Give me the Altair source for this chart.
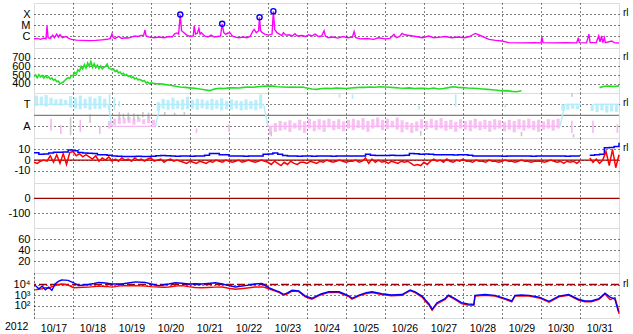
import altair as alt
import pandas as pd

# ---- time frame: hours after 2012-10-17 00:00 UT (15 days) ----
day_labels = ["10/17", "10/18", "10/19", "10/20", "10/21", "10/22", "10/23", "10/24",
              "10/25", "10/26", "10/27", "10/28", "10/29", "10/30", "10/31"]
year_label = ["2012"]
right_tag = "rl"

# ---- panel 1: X-ray flux (W/m^2) ----
xray_hours = [
    0, 2, 4, 6, 7.4, 8, 8.7, 10, 11.5, 12.5,
    14, 15, 16, 17.5, 19.5, 21.5, 23, 26, 30, 34,
    38, 42, 45, 47, 48, 48.7, 50, 52, 54, 56,
    58, 60, 62, 64, 66, 67.5, 68.3, 69, 71, 74,
    77, 80, 83, 85, 86.5, 88, 89, 90, 90.8, 92.3,
    94, 96, 98, 98.6, 99.4, 100.5, 101.5, 102.2, 103, 105,
    107, 109, 111, 113, 114.8, 115.8, 116.8, 118, 119, 120.6,
    122, 124, 126, 129, 131, 133, 134.5, 135.5, 136.8, 138.2,
    138.8, 139.4, 140.5, 142, 144.5, 146.5, 147.3, 148.1, 149.5, 151,
    152.5, 153.5, 155, 157, 159, 160.6, 162, 165, 167, 169,
    171, 173, 175, 177, 178.5, 179.3, 181, 184, 187, 190,
    193, 196, 197, 198, 201, 205, 209, 212, 216, 219,
    221.5, 223, 225, 226.5, 228, 231, 235, 239, 243, 246,
    250, 253, 257, 261, 265, 268, 270, 271.5, 273.5, 276,
    280, 284, 288, 292, 300, 308, 312, 312.6, 313.2, 320,
    327, 334, 335, 335.6, 340, 341.5, 342.2, 346, 347.5, 348.3,
    349.3, 350, 351, 351.6, 355.5, 357, 360,
]
xray_flux = [
    5.5e-7, 6e-7, 5e-7, 6.5e-7, 5.5e-7, 8e-6, 7e-7, 6e-7, 1.2e-6, 7e-7,
    1.5e-6, 8e-7, 1.3e-6, 7e-7, 9e-7, 6e-7, 5e-7, 4.2e-7, 4e-7, 3.8e-7,
    4e-7, 4.5e-7, 5e-7, 6e-7, 1.6e-6, 7e-7, 6e-7, 9e-7, 6e-7, 7e-7,
    6.5e-7, 8e-7, 1e-6, 9e-7, 1.1e-6, 1.2e-6, 3.5e-6, 1e-6, 8e-7, 7e-7,
    8e-7, 7e-7, 9e-7, 8e-7, 1.6e-6, 1.9e-6, 1.5e-6, 9e-5, 3e-6, 2e-6,
    1.2e-6, 9e-7, 1e-6, 8e-6, 1.5e-6, 1.8e-6, 5e-6, 1.5e-6, 2e-6, 1e-6,
    8e-7, 1.2e-6, 8e-7, 9e-7, 1e-6, 1.3e-5, 2e-6, 1.4e-6, 1.8e-6, 2e-6,
    1e-6, 8e-7, 7e-7, 8e-7, 7e-7, 9e-7, 2.5e-6, 4e-6, 2e-6, 3e-6,
    5e-5, 3e-6, 2e-6, 1.5e-6, 1.2e-6, 1.5e-6, 1.8e-4, 4e-6, 2e-6, 1.5e-6,
    1.1e-6, 2e-6, 1.2e-6, 1.3e-6, 1e-6, 1.6e-6, 1e-6, 1.1e-6, 9e-7, 1.3e-6,
    1e-6, 1.5e-6, 9e-7, 1e-6, 3e-6, 1e-6, 7e-7, 8e-7, 6.5e-7, 9e-7,
    7e-7, 8e-7, 2.5e-6, 7e-7, 5.5e-7, 6e-7, 5e-7, 7e-7, 5.5e-7, 6e-7,
    1.4e-6, 7e-7, 9e-7, 1.7e-6, 1.3e-6, 1.1e-6, 9e-7, 7e-7, 1e-6, 7e-7,
    8e-7, 9e-7, 7e-7, 8e-7, 7e-7, 9e-7, 1.3e-6, 1.7e-6, 1.3e-6, 9e-7,
    5e-7, 4e-7, 3.5e-7, 2.5e-7, 2.4e-7, 2.5e-7, 2.4e-7, 8e-7, 2.5e-7, 2.4e-7,
    2.5e-7, 2.4e-7, 7e-7, 2.5e-7, 2.4e-7, 1.5e-6, 2.5e-7, 2.6e-7, 1e-6, 3e-7,
    1e-6, 2.5e-7, 7e-7, 2.5e-7, 3.5e-7, 2.5e-7, 2.3e-7,
]
flare_hours = [90.0, 115.8, 138.8, 147.3]
flare_flux = [9.0e-5, 1.3e-5, 5.0e-5, 1.8e-4]
xray_class_ticks = [1e-6, 1e-5, 1e-4]
xray_class_names = ["C", "M", "X"]

# ---- panel 2: solar wind speed (km/s) ----
speed_hours = list(range(0, 73)) + list(range(75, 361, 3))
speed_kms = [
    485, 500, 470, 505, 480, 495, 465, 490, 470, 480,
    455, 465, 440, 450, 425, 430, 400, 410, 420, 440,
    455, 470, 460, 495, 490, 530, 510, 560, 545, 600,
    570, 620, 580, 640, 600, 655, 590, 630, 585, 615,
    575, 605, 570, 590, 600, 625, 580, 575, 560, 570,
    540, 555, 525, 535, 510, 520, 495, 505, 485, 490,
    470, 480, 455, 465, 445, 450, 440, 430, 435, 410,
    420, 400, 410,
    400, 398, 390, 383, 370, 362, 358, 352, 347, 340,
    330, 320, 338, 347, 345, 352, 354, 350, 358, 362,
    360, 365, 370, 374, 372, 365, 362, 360, 363, 360,
    362, 350, 340, 335, 345, 348, 345, 350, 347, 345,
    350, 355, 360, 358, 362, 360, 365, 362, 360, 355,
    350, 347, 352, 345, 348, 346, 342, 350, 340, 345,
    355, 365, 358, 355, 350, 347, 345, 340, 335, 330,
    325, 318, 320, 312, 308, 318,
    None, None, None, None, None, None, None, None, None, None,
    None, None, None, None, None,
    355, 370, 372, 368, 375,
]
speed_ticks = [400, 500, 600, 700]

# ---- panel 3: IMF sector (T = +1, A = -1) ----
toward_band_hours = [1.5, 4.5, 7.5, 10.5, 13.5, 16.5, 19.5, 22.5, 25.5, 28.5,
                     31.5, 34.5, 37.5, 40.5, 43.5,
                     76.5, 79.5, 82.5, 85.5, 88.5, 91.5, 94.5, 97.5, 100.5, 103.5,
                     106.5, 109.5, 112.5, 115.5, 118.5, 121.5, 124.5, 127.5, 130.5, 133.5,
                     136.5, 139.5,
                     325.5, 328.5, 331.5, 334.5, 343.5, 346.5, 349.5, 352.5, 355.5, 358.5]
toward_band_lo = [0.85, 0.9, 0.8, 0.95, 0.9, 0.85, 0.95, 0.7, 0.6, 0.55,
                  0.65, 0.5, 0.6, 0.55, 0.7,
                  0.4, 0.6, 0.5, 0.55, 0.6, 0.5, 0.55, 0.6, 0.5, 0.65,
                  0.55, 0.5, 0.6, 0.45, 0.55, 0.5, 0.6, 0.45, 0.5, 0.55,
                  0.45, 0.6,
                  0.4, 0.5, 0.6, 0.55, 0.4, 0.3, 0.45, 0.25, 0.35, 0.3]
toward_band_hi = [1.8, 1.7, 1.85, 1.6, 1.45, 1.5, 1.4, 1.75, 1.6, 1.8,
                  1.5, 1.7, 1.55, 1.75, 1.5,
                  1.2, 1.5, 1.4, 1.6, 1.35, 1.45, 1.7, 1.4, 1.5, 1.45,
                  1.35, 1.5, 1.4, 1.55, 1.3, 1.45, 1.35, 1.3, 1.45, 1.3,
                  1.4, 1.9,
                  1.0, 0.95, 1.0, 0.9, 1.0, 0.95, 1.0, 0.9, 1.0, 0.95]
away_band_hours = [46.5, 49.5, 52.5, 55.5, 58.5, 61.5, 64.5, 67.5, 70.5, 73.5] + \
                  [145.5 + 3 * k for k in range(60)]
away_band_lo = [-0.5, -0.3, -0.2, -0.25, -0.15, -0.3, -0.2, -0.35, -0.1, -0.4,
                -1.0, -0.7, -0.5, -0.6, -0.45, -0.7, -0.4, -0.55, -0.3, -0.5,
                -0.35, -0.45, -0.3, -0.5, -0.35, -0.55, -0.4, -0.3, -0.45, -0.25,
                -0.5, -0.35, -0.2, -0.4, -0.3, -0.5, -0.2, -0.45, -0.6, -0.7,
                -0.55, -0.35, -0.5, -0.3, -0.45, -0.25, -0.5, -0.4, -0.6, -0.35,
                -0.5, -0.45, -0.3, -0.55, -0.4, -0.5, -0.35, -0.45, -0.6, -0.4,
                -0.5, -0.35, -0.45, -0.3, -0.5, -0.4, -0.55, -0.35, -0.4, -0.3]
away_band_hi = [-1.2, -0.9, -0.8, -0.75, -0.7, -0.85, -0.6, -0.8, -0.7, -0.9,
                -1.75, -1.5, -1.4, -1.3, -1.5, -1.2, -1.35, -1.6, -1.2, -1.45,
                -1.3, -1.5, -1.1, -1.35, -1.25, -1.45, -1.2, -1.35, -1.15, -1.3,
                -1.5, -1.2, -1.1, -1.35, -1.25, -1.1, -1.3, -1.55, -1.3, -1.6,
                -1.45, -1.2, -1.3, -1.15, -1.35, -1.2, -1.4, -1.25, -1.5, -1.2,
                -1.3, -1.45, -1.2, -1.35, -1.25, -1.5, -1.3, -1.2, -1.45, -1.3,
                -1.55, -1.25, -1.4, -1.2, -1.35, -1.5, -1.3, -1.2, -1.4, -1.2]
streak_hours = [46.5, 49.5, 52.5, 188, 196, 237, 259.5, 290,
                10.5, 16.5, 28.5, 40.5, 100, 120, 331, 344, 359,
                22.5, 34.5, 52.5, 55, 58, 61.5, 64, 67, 70.5, 80.5, 86.5, 92.5,
                146, 238, 300, 332, 331]
streak_lo = [0.3, 0.5, 0.8, 1.6, 1.5, 0.5, 0.8, 0.7,
             -0.3, -0.9, -0.4, -1.0, -1.2, -0.8, -0.5, -0.5, -0.8,
             -0.2, 0.1, 0.3, 0.15, 0.25, 0.2, 0.1, 0.3, 0.25, 0.3, 0.25, 0.3,
             -1.5, -1.4, -1.5, -1.7, 1.7]
streak_hi = [1.9, 1.6, 1.3, 2.0, 1.9, 0.9, 1.9, 1.0,
             -1.4, -1.7, -1.5, -1.7, -1.6, -1.5, -1.6, -1.6, -1.6,
             -1.8, -0.7, -0.4, -0.3, -0.45, -0.5, -0.35, -0.2, -0.3, 0.0, -0.05, 0.05,
             -1.9, -1.85, -1.9, -2.0, 2.0]
streak_kind = ["toward"] * 8 + ["away"] * 9 + ["other"] * 17
sector_h_start = [0, 45.6, 48, 74.7, 77.7, 141.3, 144, 323.7, 326.8, 344.6]
sector_h_end = [45.6, 48, 74.7, 77.7, 141.3, 144, 323.7, 326.8, 336.6, 360]
sector_p_start = [1, 1, -1, -1, 1, 1, -1, -1, 1, 1]
sector_p_end = [1, -1, -1, 1, 1, -1, -1, 1, 1, 1]
sector_kind = ["toward", "change", "away", "change", "toward", "change",
               "away", "change", "toward", "toward"]
sector_ticks = [-1, 1]
sector_names = ["A", "T"]

# ---- panel 4: IMF Bt / Bz (nT) ----
bt_hours = list(range(0, 361, 3))
bt_nt = [
    6.8, 5.5, 5.6, 6.5, 7.3, 7.2, 7.6, 9.3, 8.6, 7.0,
    6.5, 6.3, 6.0, 5.0, 4.9, 4.5, 3.8, 3.5, 3.3, 3.4,
    3.3, 3.5, 3.3, 3.4, 3.6, 4.0, 4.3, 4.0, 3.8, 3.6,
    3.7, 3.7, 3.6, 3.8, 3.7, 4.5, 6.2, 6.0, 5.0, 4.9,
    3.8, 3.7, 3.7, 3.6, 3.7, 3.7, 3.8, 5.5, 5.6, 6.5,
    5.5, 4.2, 3.7, 3.7, 3.6, 3.7, 3.7, 3.6, 3.7, 3.7,
    3.7, 3.6, 3.7, 3.7, 3.8, 3.7, 3.7, 3.8, 5.3, 4.6,
    4.3, 4.3, 4.2, 4.4, 4.3, 4.3, 4.4, 6.2, 5.8, 5.5,
    5.6, 5.4, 4.9, 4.9, 5.0, 4.9, 4.8, 4.9, 4.9, 4.5,
    3.9, 3.7, 3.7, 3.8, 3.7, 3.7, 3.6, 3.7, 3.7, 3.8,
    3.7, 3.7, 3.6, 3.7, 3.7, 3.8, 3.7, 3.7, 3.7, 3.6,
    3.7, 3.8, 3.7, None, 4.5, 5.0, 5.5, 11.5, 11.7, 12.5,
    16.0,
]
bz_hours = list(range(0, 361, 2))
bz_nt = [
    -2, -3, -1, 0, -1, 4, -2, 5, -3, 6,
    -4, 7, 8, 4, 6, 3, 5, 3, 1, 4,
    -1, 2, 0, 3, -1, 1, -1, 2, 0, 1,
    -1, 2, 0, 1, -1, 1, 2, -1, 0, 1,
    -2, 0, 1, -1, 0, -1, -2, -3, -1, -2,
    -3, -1, -2, -3, -1, -2, 0, -1, -2, 0,
    -1, -2, -1, 0, -2, -1, 0, -1, -2, -1,
    0, -1, -2, -4, -1, -3, -5, -2, -4, -1,
    -3, -4, -2, -2, -3, -1, -2, -3, -1, -2,
    0, -1, -2, -1, 0, -1, -2, -1, -1, 0,
    -2, -1, 2, -3, 1, -2, 0, -2, -1, -3,
    -1, -2, -3, -1, -2, -1, -3, -5, -4, -5,
    -2, -4, -1, 1, -1, 0, -2, 1, -1, -2,
    0, -1, 1, -1, -1, -2, 0, -1, -1, -2,
    0, -1, -1, -2, -1, 0, -1, -1, -2, -1,
    0, -1, -1, -2, -1, -1, -1, -2, -1, 0,
    -1, -2, -1, -3, -1, -2, -1, -3, -1, None,
    None, 2, -2, 1, -3, 0, 8, -5, 10, -7,
    5,
]
b_ticks = [-10, 0, 10]

# ---- panel 5: Dst (nT) and panel 6: no data in this window ----
dst_ticks = [-100, 0]
dst_zero = [0]
p6_ticks = [20, 40, 60]

# ---- panel 7: electron flux (log10) ----
elec_hours = [
    0.8, 3, 5, 7, 9, 11, 13, 15, 17, 19,
    21, 24.4, 27.5, 30, 33.6, 37, 39.8, 44, 48, 54,
    58, 62.4, 68.5, 72, 76.7, 80, 82.9, 87, 91, 95,
    99, 103, 107, 111.6, 116, 119.8, 124, 130, 136, 140.3,
    142.3, 144.4, 148.5, 151, 153.6, 156, 158.8, 162.9, 167, 171,
    175, 177, 181.5, 187.7, 191, 194, 195.7, 200, 204, 208,
    214, 220, 226.5, 231.5, 234.5, 238.8, 241, 243, 245, 248,
    253, 255, 259, 263, 267, 270.7, 271.4, 277.5, 283.7, 290,
    294, 296, 300, 304.6, 310.8, 317, 323, 329, 335, 339,
    343, 347.7, 351.4, 354.5, 357.5, 359.5, 360,
]
elec_blue_log = [
    3.9, 3.6, 3.85, 3.5, 3.75, 3.45, 4.05, 4.3, 4.43, 4.42,
    4.4, 4.17, 3.9, 3.95, 4.0, 4.1, 4.2, 4.15, 4.05, 4.05,
    4.15, 4.25, 4.2, 4.05, 3.9, 3.98, 4.05, 4.17, 4.12, 4.05,
    4.08, 4.05, 4.1, 4.17, 4.05, 3.9, 3.76, 3.9, 4.05, 4.1,
    3.9, 3.7, 3.45, 3.3, 3.07, 3.2, 3.45, 3.4, 2.9, 2.69,
    3.0, 3.12, 3.31, 3.31, 3.1, 2.9, 2.69, 3.0, 3.2, 3.31,
    3.12, 3.0, 3.05, 3.48, 3.3, 2.9, 2.5, 2.17, 1.64, 2.27,
    2.66, 3.0, 2.66, 2.27, 2.15, 2.11, 2.97, 3.05, 2.97, 2.66,
    2.43, 2.97, 3.0, 2.97, 2.8, 2.4, 2.9, 3.05, 2.6, 2.43,
    2.43, 2.66, 3.18, 2.8, 2.6, 1.48, 1.4,
]
elec_red_log = [
    3.5, 3.55, 3.6, 3.7, 3.65, 3.8, 3.9, 4.0, 4.05, 4.02,
    3.95, 3.7, 3.72, 3.74, 3.75, 3.8, 3.85, 3.82, 3.75, 3.9,
    3.88, 3.9, 3.85, 3.8, 3.76, 3.74, 3.76, 3.85, 3.9, 3.8,
    3.72, 3.7, 3.72, 3.75, 3.76, 3.65, 3.55, 3.65, 3.76, 3.78,
    3.72, 3.6, 3.38, 3.22, 2.98, 3.12, 3.38, 3.32, 2.82, 2.6,
    2.92, 3.05, 3.25, 3.24, 3.02, 2.82, 2.6, 2.92, 3.12, 3.24,
    3.05, 2.93, 2.98, 3.42, 3.22, 2.8, 2.38, 2.05, 1.55, 2.15,
    2.58, 2.92, 2.58, 2.18, 2.05, 2.02, 2.9, 2.98, 2.9, 2.58,
    2.35, 2.9, 2.93, 2.9, 2.72, 2.32, 2.82, 2.98, 2.52, 2.36,
    2.36, 2.58, 3.1, 2.55, 2.75, 1.7, 1.2,
]
elec_ticks = [2, 3, 4]
elec_alert_log = [4]

# ---------------- build ----------------
W, H = 585, 45
XDOM = [0, 360]
DOT = [1, 3]
FONT = "Liberation Sans"

MAG = "#ff00ff"
GRN = "#22e022"
BLUE = "#0000ff"
RED = "#ff0000"
DKRED = "#a00000"
CYAN = "#b2ecfa"
PINK = "#f6b6f2"
LGRAY = "#c8c8c8"

XAXIS = alt.Axis(values=[24 * k for k in range(1, 15)], labels=False, ticks=False,
                 domain=False, grid=True, gridColor="black", gridDash=DOT,
                 gridOpacity=1, title=None)
label_list = "[" + ",".join("'" + d + "'" for d in day_labels) + "]"
XAXIS_BOTTOM = alt.Axis(values=[24 * k for k in range(0, 15)], labels=True,
                        labelExpr=label_list + "[round(datum.value/24)]",
                        labelOffset=19.5, labelFlush=False, labelOverlap=False,
                        labelPadding=5, labelFontSize=10.5, labelColor="black",
                        labelFont=FONT, ticks=False, domain=False, grid=True,
                        gridColor="black", gridDash=DOT, gridOpacity=1, title=None)


def yaxis(values, expr):
    return alt.Axis(values=values, labelExpr=expr, title=None, ticks=False,
                    domain=False, grid=True, gridColor="black", gridDash=DOT,
                    gridOpacity=1, labelPadding=4, labelFontSize=11,
                    labelOverlap=False, labelColor="black", labelFont=FONT,
                    minExtent=30, maxExtent=30)


def X(field, bottom=False):
    return alt.X(f"{field}:Q", scale=alt.Scale(domain=XDOM, nice=False, zero=False),
                 axis=XAXIS_BOTTOM if bottom else XAXIS)


def segmented(hours, values):
    df = pd.DataFrame({"h": hours, "v": values})
    df["seg"] = df["v"].isna().cumsum()
    return df.dropna()


def tag(ysc, yax, yval):
    df = pd.DataFrame({"t": [right_tag], "v": [yval]})
    return alt.Chart(df).mark_text(align="left", baseline="middle", fontSize=10,
                                   font=FONT, color="black", dy=-1).encode(
        x=alt.value(W + 4), y=alt.Y("v:Q", scale=ysc, axis=yax), text="t:N")


# panel 1
y1s = alt.Scale(type="log", domain=[10 ** -7.09, 1e-3], nice=False)
y1a = yaxis(xray_class_ticks, "datum.value > 5e-5 ? 'X' : (datum.value > 5e-6 ? 'M' : 'C')")
xray_df = pd.DataFrame({"h": xray_hours, "v": xray_flux})
flare_df = pd.DataFrame({"h": flare_hours, "v": flare_flux})
p1 = alt.layer(
    alt.Chart(xray_df).mark_line(color=MAG, strokeWidth=1.4).encode(
        x=X("h"), y=alt.Y("v:Q", scale=y1s, axis=y1a)),
    alt.Chart(flare_df).mark_point(shape="circle", filled=False, color=BLUE,
                                   strokeWidth=1.4, size=26, opacity=1).encode(
        x=X("h"), y=alt.Y("v:Q", scale=y1s, axis=y1a)),
    tag(y1s, y1a, 1e-4),
).properties(width=W, height=H)

# panel 2
y2s = alt.Scale(domain=[293, 812], nice=False, zero=False)
y2a = yaxis(speed_ticks, "'' + datum.value")
p2 = alt.layer(
    alt.Chart(segmented(speed_hours, speed_kms)).mark_line(color=GRN, strokeWidth=1.6).encode(
        x=X("h"), y=alt.Y("v:Q", scale=y2s, axis=y2a), detail="seg:N"),
    tag(y2s, y2a, 700),
).properties(width=W, height=H)

# panel 3
y3s = alt.Scale(domain=[-2.06, 2.03], nice=False, zero=False)
y3a = yaxis(sector_ticks, "datum.value > 0 ? 'T' : 'A'")
tb = pd.DataFrame({"h": toward_band_hours, "lo": toward_band_lo, "hi": toward_band_hi})
ab = pd.DataFrame({"h": away_band_hours, "lo": away_band_lo, "hi": away_band_hi})
st = pd.DataFrame({"h": streak_hours, "lo": streak_lo, "hi": streak_hi, "k": streak_kind})
sec = pd.DataFrame({"h1": sector_h_start, "h2": sector_h_end, "p1": sector_p_start,
                    "p2": sector_p_end, "k": sector_kind})
mid = pd.DataFrame({"v": [0]})
kind_scale = alt.Scale(domain=["toward", "away", "other"], range=[CYAN, PINK, LGRAY])
p3 = alt.layer(
    alt.Chart(ab).mark_rule(color=PINK, strokeWidth=3.2, opacity=0.85).encode(
        x=X("h"), y=alt.Y("lo:Q", scale=y3s, axis=y3a), y2="hi:Q"),
    alt.Chart(tb).mark_rule(color=CYAN, strokeWidth=3.2, opacity=0.9).encode(
        x=X("h"), y=alt.Y("lo:Q", scale=y3s, axis=y3a), y2="hi:Q"),
    alt.Chart(st).mark_rule(strokeWidth=1.6).encode(
        x=X("h"), y=alt.Y("lo:Q", scale=y3s, axis=y3a), y2="hi:Q",
        color=alt.Color("k:N", scale=kind_scale, legend=None)),
    alt.Chart(mid).mark_rule(color="#808080", strokeWidth=1.3).encode(
        y=alt.Y("v:Q", scale=y3s, axis=y3a)),
    alt.Chart(sec).mark_rule(strokeWidth=1.4).encode(
        x=X("h1"), x2="h2:Q", y=alt.Y("p1:Q", scale=y3s, axis=y3a), y2="p2:Q",
        color=alt.Color("k:N", scale=alt.Scale(domain=["toward", "away", "change"],
                                               range=["#4466dd", "#dd2222", "#4a8a4a"]),
                        legend=None)),
    tag(y3s, y3a, 1),
).properties(width=W, height=H)

# panel 4
y4s = alt.Scale(domain=[-21.1, 20.4], nice=False, zero=False)
y4a = yaxis(b_ticks, "'' + datum.value")
p4 = alt.layer(
    alt.Chart(mid).mark_rule(color=DKRED, strokeWidth=1.3).encode(
        y=alt.Y("v:Q", scale=y4s, axis=y4a)),
    alt.Chart(segmented(bt_hours, bt_nt)).mark_line(color=BLUE, strokeWidth=1.5,
                                                    interpolate="step-after").encode(
        x=X("h"), y=alt.Y("v:Q", scale=y4s, axis=y4a), detail="seg:N"),
    alt.Chart(segmented(bz_hours, bz_nt)).mark_line(color=RED, strokeWidth=1.5).encode(
        x=X("h"), y=alt.Y("v:Q", scale=y4s, axis=y4a), detail="seg:N"),
    tag(y4s, y4a, 10),
).properties(width=W, height=H)

# panel 5
empty = pd.DataFrame({"h": pd.Series([], dtype=float), "v": pd.Series([], dtype=float)})
y5s = alt.Scale(domain=[-202, 104], nice=False, zero=False)
y5a = yaxis(dst_ticks, "'' + datum.value")
p5 = alt.layer(
    alt.Chart(empty).mark_point(opacity=0).encode(
        x=X("h"), y=alt.Y("v:Q", scale=y5s, axis=y5a)),
    alt.Chart(pd.DataFrame({"v": dst_zero})).mark_rule(color=DKRED, strokeWidth=1.3).encode(
        y=alt.Y("v:Q", scale=y5s, axis=y5a)),
).properties(width=W, height=H)

# panel 6
y6s = alt.Scale(domain=[-2.1, 80.8], nice=False, zero=False)
y6a = yaxis(p6_ticks, "'' + datum.value")
p6 = alt.Chart(empty).mark_point(opacity=0).encode(
    x=X("h"), y=alt.Y("v:Q", scale=y6s, axis=y6a)).properties(width=W, height=H)

# panel 7
y7s = alt.Scale(domain=[0.81, 5.1], nice=False, zero=False)
y7a = yaxis(elec_ticks, "'10' + (datum.value > 3.5 ? '⁴' : (datum.value > 2.5 ? '³' : '²'))")
elec_df = pd.DataFrame({"h": elec_hours, "b": elec_blue_log, "r": elec_red_log})
p7 = alt.layer(
    alt.Chart(pd.DataFrame({"v": elec_alert_log})).mark_rule(
        color=DKRED, strokeWidth=1.4, strokeDash=[8, 3]).encode(
        y=alt.Y("v:Q", scale=y7s, axis=y7a)),
    alt.Chart(elec_df).mark_line(color=RED, strokeWidth=1.4).encode(
        x=X("h", bottom=True), y=alt.Y("r:Q", scale=y7s, axis=y7a)),
    alt.Chart(elec_df).mark_line(color=BLUE, strokeWidth=1.4).encode(
        x=X("h", bottom=True), y=alt.Y("b:Q", scale=y7s, axis=y7a)),
    tag(y7s, y7a, 4),
    alt.Chart(pd.DataFrame({"t": year_label})).mark_text(
        align="left", baseline="middle", fontSize=10.5, font=FONT, color="black").encode(
        x=alt.value(-29), y=alt.value(H + 9), text="t:N"),
).properties(width=W, height=H)

chart = alt.vconcat(p1, p2, p3, p4, p5, p6, p7, spacing=0, bounds="flush").properties(
    padding={"left": 3, "top": 2, "right": 0, "bottom": 0},
    background="white",
).configure_view(stroke="black", strokeWidth=1).configure(font=FONT)

chart.save("out.html", embed_options={"renderer": "svg", "actions": False})
